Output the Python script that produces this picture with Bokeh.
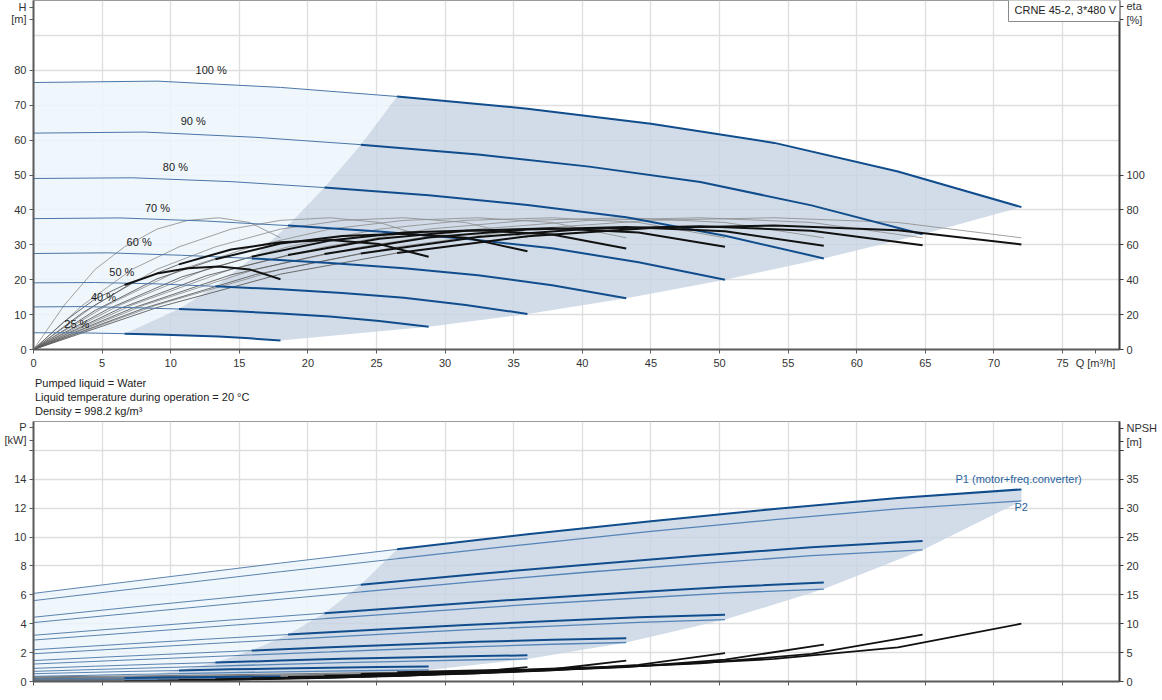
from bokeh.plotting import figure
from bokeh.models import Range1d, LinearAxis, FixedTicker, Label, Div
from bokeh.layouts import column
from bokeh.embed import file_html
from bokeh.resources import INLINE
from bokeh.core.properties import value

FONT = "Liberation Sans"

# ---------------- data ----------------
speeds = ["100 %", "90 %", "80 %", "70 %", "60 %", "50 %", "40 %", "25 %"]
label_q = [12.95, 11.64, 10.34, 9.04, 7.70, 6.44, 5.10, 3.16]
label_h = [80.0, 65.5, 52.3, 40.5, 30.7, 22.1, 15.0, 7.4]

# flow points of each speed curve: thin part (outside range) and thick part
q_thin = [
    [0, 9, 18, 26.5],
    [0, 8.1, 16.2, 23.85],
    [0, 7.2, 14.4, 21.2],
    [0, 6.3, 12.6, 18.55],
    [0, 5.4, 10.8, 15.9],
    [0, 4.5, 9, 13.25],
    [0, 3.6, 7.2, 10.6],
    [0, 2.25, 4.5, 6.63],
]
q_thick = [
    [26.5, 36, 45, 54, 63, 72],
    [23.85, 32.4, 40.5, 48.6, 56.7, 64.8],
    [21.2, 28.8, 36, 43.2, 50.4, 57.6],
    [18.55, 25.2, 31.5, 37.8, 44.1, 50.4],
    [15.9, 21.6, 27, 32.4, 37.8, 43.2],
    [13.25, 18, 22.5, 27, 31.5, 36],
    [10.6, 14.4, 18, 21.6, 25.2, 28.8],
    [6.63, 9, 11.25, 13.5, 15.75, 18],
]

# head H [m]
h_thin = [
    [76.5, 76.9, 75.1, 72.5],
    [62.0, 62.3, 60.8, 58.7],
    [49.0, 49.2, 48.1, 46.4],
    [37.5, 37.7, 36.8, 35.5],
    [27.5, 27.7, 27.0, 26.1],
    [19.1, 19.2, 18.8, 18.1],
    [12.2, 12.3, 12.0, 11.6],
    [4.78, 4.81, 4.69, 4.53],
]
h_thick = [
    [72.5, 69.0, 64.7, 59.2, 51.0, 40.8],
    [58.7, 55.9, 52.4, 48.0, 41.3, 33.0],
    [46.4, 44.2, 41.4, 37.9, 32.6, 26.1],
    [35.5, 33.8, 31.7, 29.0, 25.0, 20.0],
    [26.1, 24.8, 23.3, 21.3, 18.4, 14.7],
    [18.1, 17.25, 16.2, 14.8, 12.75, 10.2],
    [11.6, 11.0, 10.35, 9.47, 8.16, 6.53],
    [4.53, 4.31, 4.04, 3.7, 3.19, 2.55],
]

# efficiency [%]: total (thin + thick) and pump-only (same shape for every speed)
eta_thin = [
    [0, 24.0, 43.2, 55.3],
    [0, 23.8, 43.0, 55.0],
    [0, 23.7, 42.8, 54.7],
    [0, 23.5, 42.3, 54.1],
    [0, 23.1, 41.6, 53.2],
    [0, 22.4, 40.5, 51.7],
    [0, 21.2, 38.2, 48.8],
    [0, 16.1, 29.0, 37.0],
]
eta_thick = [
    [55.3, 64.9, 69.6, 71.0, 68.4, 60.2],
    [55.0, 64.5, 69.2, 70.6, 68.1, 59.8],
    [54.7, 64.2, 68.8, 70.2, 67.7, 59.5],
    [54.1, 63.5, 68.1, 69.5, 67.0, 58.9],
    [53.2, 62.4, 67.0, 68.3, 65.9, 57.9],
    [51.7, 60.7, 65.1, 66.4, 64.1, 56.3],
    [48.8, 57.3, 61.4, 62.7, 60.4, 53.1],
    [37.0, 43.5, 46.6, 47.6, 45.9, 40.3],
]
eta_pump = [0, 25.5, 46, 58.8, 69, 74, 75.5, 72.8, 64]

# power P1 (motor + freq. converter) and P2 [kW]
p1_thin = [
    [6.1, 7.15, 8.2, 9.15],
    [4.45, 5.24, 6.0, 6.7],
    [3.2, 3.74, 4.26, 4.73],
    [2.2, 2.57, 2.93, 3.25],
    [1.45, 1.7, 1.93, 2.14],
    [0.91, 1.06, 1.2, 1.31],
    [0.54, 0.62, 0.70, 0.76],
    [0.18, 0.2, 0.23, 0.25],
]
p1_thick = [
    [9.15, 10.2, 11.1, 11.95, 12.7, 13.3],
    [6.7, 7.45, 8.1, 8.72, 9.3, 9.72],
    [4.73, 5.25, 5.72, 6.14, 6.54, 6.85],
    [3.25, 3.6, 3.92, 4.19, 4.44, 4.62],
    [2.14, 2.37, 2.57, 2.75, 2.89, 3.0],
    [1.31, 1.45, 1.57, 1.67, 1.75, 1.81],
    [0.76, 0.84, 0.90, 0.96, 1.0, 1.04],
    [0.25, 0.27, 0.29, 0.31, 0.33, 0.34],
]
p2_thin = [
    [5.6, 6.6, 7.6, 8.5],
    [4.08, 4.81, 5.54, 6.2],
    [2.87, 3.38, 3.89, 4.35],
    [1.92, 2.26, 2.61, 2.92],
    [1.21, 1.43, 1.64, 1.84],
    [0.70, 0.83, 0.95, 1.06],
    [0.36, 0.42, 0.49, 0.54],
    [0.09, 0.10, 0.12, 0.13],
]
p2_thick = [
    [8.5, 9.5, 10.4, 11.2, 11.95, 12.5],
    [6.2, 6.93, 7.58, 8.16, 8.71, 9.11],
    [4.35, 4.86, 5.32, 5.73, 6.12, 6.4],
    [2.92, 3.26, 3.57, 3.84, 4.1, 4.29],
    [1.84, 2.05, 2.25, 2.42, 2.58, 2.7],
    [1.06, 1.19, 1.30, 1.40, 1.49, 1.56],
    [0.54, 0.61, 0.67, 0.72, 0.76, 0.80],
    [0.13, 0.15, 0.16, 0.175, 0.19, 0.195],
]

# NPSH [m]
npsh_thin = [
    [0.8, 1.0, 1.3, 1.6],
    [0.65, 0.81, 1.05, 1.3],
    [0.51, 0.64, 0.83, 1.02],
    [0.39, 0.49, 0.64, 0.78],
    [0.29, 0.36, 0.47, 0.58],
    [0.2, 0.25, 0.33, 0.4],
    [0.13, 0.16, 0.21, 0.26],
    [0.05, 0.06, 0.08, 0.1],
]
npsh_thick = [
    [1.6, 2.1, 2.8, 3.9, 5.9, 10.0],
    [1.3, 1.7, 2.27, 3.16, 4.78, 8.1],
    [1.02, 1.34, 1.79, 2.5, 3.78, 6.4],
    [0.78, 1.03, 1.37, 1.91, 2.89, 4.9],
    [0.58, 0.76, 1.01, 1.4, 2.12, 3.6],
    [0.4, 0.53, 0.7, 0.98, 1.48, 2.5],
    [0.26, 0.34, 0.45, 0.62, 0.94, 1.6],
    [0.1, 0.13, 0.18, 0.24, 0.37, 0.63],
]

# ticks and axis titles (titles sit at the ends of the axes)
q_ticks = [0, 5, 10, 15, 20, 25, 30, 35, 40, 45, 50, 55, 60, 65, 70, 75]
h_ticks = [0, 10, 20, 30, 40, 50, 60, 70, 80]
eta_ticks = [0, 20, 40, 60, 80, 100]
p_ticks = [0, 2, 4, 6, 8, 10, 12, 14, 16]
npsh_ticks = [0, 5, 10, 15, 20, 25, 30, 35, 40]
q_title = {77.4: "Q [m\u00b3/h]"}
h_title = {98.0: "H", 94.6: "[m]"}
eta_title = {196.6: "eta", 189.0: "[%]"}
p_title = {17.6: "P", 16.7: "[kW]"}
npsh_title = {43.8: "NPSH", 41.5: "[m]"}

info_lines = ["Pumped liquid = Water",
              "Liquid temperature during operation = 20 \u00b0C",
              "Density = 998.2 kg/m\u00b3"]

# ---------------- styles ----------------
C_THICK = "#114d8c"
C_THIN = "#4a76a6"
C_P2 = "#5584b6"
C_GRAY_REGION = "#c6d3e2"
C_LIGHT_REGION = "#ecf4fc"
Q_MAX = 79.15
n = len(speeds)
last = n - 1


def style_axis(ax, color):
    ax.major_label_text_font = FONT
    ax.major_label_text_font_size = "11px"
    ax.major_label_text_color = "#333333"
    ax.major_tick_in = 0
    ax.major_tick_out = 4
    ax.minor_tick_line_color = None
    ax.major_label_standoff = 3
    ax.axis_line_width = 2
    ax.axis_line_color = color
    ax.major_tick_line_color = color


def style(p, left_ticks, left_over):
    p.background_fill_color = "white"
    p.border_fill_color = "white"
    p.outline_line_color = "#9a9a9a"
    p.outline_line_width = 1
    p.xgrid.ticker = FixedTicker(ticks=q_ticks[1:])
    for g in (p.xgrid, p.ygrid):
        g.grid_line_color = "#dedede"
        g.grid_line_width = 1.3
    for ax in p.xaxis + p.yaxis:
        style_axis(ax, "#5a5a5a")
    p.yaxis.ticker = FixedTicker(ticks=left_ticks + list(left_over.keys()))
    p.yaxis.major_label_overrides = left_over


def right_axis(p, name, ticks, over):
    ax = LinearAxis(y_range_name=name, ticker=FixedTicker(ticks=ticks + list(over.keys())))
    style_axis(ax, "#3a3a3a")
    ax.major_label_overrides = over
    p.add_layout(ax, "right")


# ---------------- top chart: H / eta ----------------
p1 = figure(width=1162, height=376, x_range=Range1d(0, Q_MAX), y_range=Range1d(0, 100),
            output_backend="svg", toolbar_location=None, title=None,
            min_border_left=33, min_border_right=43, min_border_top=0, min_border_bottom=27)
p1.extra_y_ranges = {"eta": Range1d(0, 200)}
style(p1, h_ticks, h_title)
p1.ygrid.ticker = FixedTicker(ticks=[10, 20, 30, 40, 50, 60, 70, 80, 90])
p1.xaxis.ticker = FixedTicker(ticks=q_ticks + list(q_title.keys()))
p1.xaxis.major_label_overrides = q_title
right_axis(p1, "eta", eta_ticks, eta_title)

# operating regions
light_x = q_thin[0] + [q_thin[i][-1] for i in range(1, n)] + q_thin[last][-2::-1]
light_y = h_thin[0] + [h_thin[i][-1] for i in range(1, n)] + h_thin[last][-2::-1]
p1.patch(light_x, light_y, fill_color=C_LIGHT_REGION, fill_alpha=0.85, line_color=None)
gray_x = ([q_thick[i][0] for i in range(last, -1, -1)] + q_thick[0][1:]
          + [q_thick[i][-1] for i in range(1, n)] + q_thick[last][-2::-1])
gray_y = ([h_thick[i][0] for i in range(last, -1, -1)] + h_thick[0][1:]
          + [h_thick[i][-1] for i in range(1, n)] + h_thick[last][-2::-1])
p1.patch(gray_x, gray_y, fill_color=C_GRAY_REGION, fill_alpha=0.8, line_color=None)

# efficiency curves (eta axis)
pump_xs = [q_thin[i] + q_thick[i][1:] for i in range(n)]
p1.multi_line(pump_xs, [eta_pump] * n, line_color="#8a8a8a", line_width=0.8, y_range_name="eta")
p1.multi_line(q_thin, eta_thin, line_color="#5e5e5e", line_width=0.9, y_range_name="eta")

# QH curves
p1.multi_line(q_thin, h_thin, line_color=C_THIN, line_width=1)
p1.multi_line(q_thick, h_thick, line_color=C_THICK, line_width=2)
p1.multi_line(q_thick, eta_thick, line_color="#111111", line_width=2, y_range_name="eta")

p1.text(x=label_q, y=label_h, text=speeds, text_font=value(FONT), text_font_size="11px",
        text_align="center", text_baseline="middle", text_color="#222222")

p1.add_layout(Label(x=975, y=340, x_units="screen", y_units="screen",
                    text="CRNE 45-2, 3*480 V", text_font=FONT, text_font_size="11px",
                    text_color="#222222", text_align="left", text_baseline="middle",
                    border_line_color="#8a8a8a", background_fill_color="white", padding=6))

# ---------------- liquid info between the charts ----------------
info = Div(text=('<div style="font-family:\'Liberation Sans\';font-size:11px;line-height:14px;'
                 'color:#222;padding-left:35px;padding-top:0px;white-space:nowrap">'
                 + "<br>".join(info_lines) + "</div>"),
           width=1162, height=44, margin=0)

# ---------------- bottom chart: P / NPSH ----------------
p2 = figure(width=1162, height=280, x_range=Range1d(0, Q_MAX), y_range=Range1d(0, 18),
            output_backend="svg", toolbar_location=None, title=None,
            min_border_left=33, min_border_right=43, min_border_top=1, min_border_bottom=19)
p2.extra_y_ranges = {"npsh": Range1d(0, 45)}
p_over = {16: ""}
p_over.update(p_title)
style(p2, p_ticks, p_over)
p2.ygrid.ticker = FixedTicker(ticks=[2, 4, 6, 8, 10, 12, 14, 16])
p2.xaxis.ticker = FixedTicker(ticks=q_ticks)
p2.xaxis.major_label_overrides = {t: "" for t in q_ticks}
n_over = {40: ""}
n_over.update(npsh_title)
right_axis(p2, "npsh", npsh_ticks, n_over)

plight_x = q_thin[0] + [q_thin[i][-1] for i in range(1, n)] + q_thin[last][-2::-1]
plight_y = p1_thin[0] + [p1_thin[i][-1] for i in range(1, n)] + p1_thin[last][-2::-1]
p2.patch(plight_x, plight_y, fill_color=C_LIGHT_REGION, fill_alpha=0.85, line_color=None)
pgray_x = ([q_thick[i][0] for i in range(last, -1, -1)] + q_thick[0][1:]
           + [q_thick[i][-1] for i in range(n)] + q_thick[last][-2::-1])
pgray_y = ([p1_thick[i][0] for i in range(last, -1, -1)] + p1_thick[0][1:]
           + [p2_thick[i][-1] for i in range(n)] + p2_thick[last][-2::-1])
p2.patch(pgray_x, pgray_y, fill_color=C_GRAY_REGION, fill_alpha=0.8, line_color=None)

p2.multi_line(q_thin, npsh_thin, line_color="#6a6a6a", line_width=0.9, y_range_name="npsh")
p2.multi_line(q_thin, p2_thin, line_color=C_THIN, line_width=0.9)
p2.multi_line(q_thin, p1_thin, line_color=C_THIN, line_width=0.9)
p2.multi_line(q_thick, p2_thick, line_color=C_P2, line_width=1.3)
p2.multi_line(q_thick, p1_thick, line_color=C_THICK, line_width=2)
p2.multi_line(q_thick, npsh_thick, line_color="#111111", line_width=1.8, y_range_name="npsh")

for txt, x, y in [("P1 (motor+freq.converter)", 922, 203), ("P2", 981, 175)]:
    p2.add_layout(Label(x=x, y=y, x_units="screen", y_units="screen", text=txt,
                        text_font=FONT, text_font_size="11px", text_color="#2a64a0",
                        text_align="left", text_baseline="middle"))

layout = column(p1, info, p2)
open("out.html", "w", encoding="utf-8").write(file_html(layout, INLINE))
